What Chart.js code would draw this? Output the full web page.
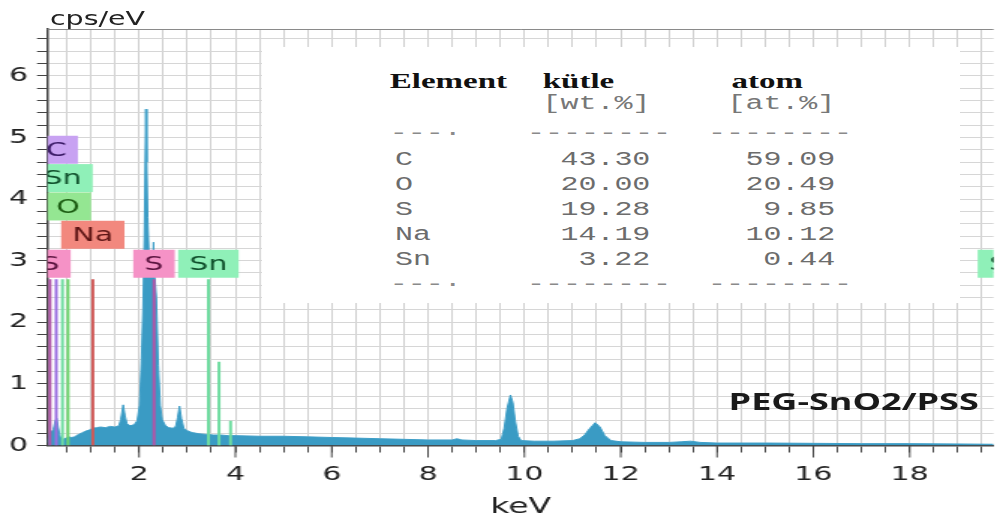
<!DOCTYPE html>
<html>
<head>
<meta charset="utf-8">
<script src="https://cdn.jsdelivr.net/npm/chart.js@4.4.1/dist/chart.umd.min.js"></script>
<style>
  html, body { margin: 0; padding: 0; background: #fff; overflow: hidden; }
  /* the source picture is stretched sideways, so the whole drawing is built narrow and scaled */
  #wrap { position: absolute; left: 0; top: 0; width: 665px; height: 526px;
          transform: scaleX(1.4992); transform-origin: 0 0; }
  #wrap canvas { position: absolute; left: 0; top: 0; }
  #box { position: absolute; left: 175px; top: 47px; width: 465px; height: 256px; background: #fff; }
  .t { position: absolute; white-space: pre; line-height: 1; }
</style>
</head>
<body>
<div id="wrap">
  <canvas id="chart"></canvas>
  <div id="box"></div>
</div>
<script>
// spectrum (keV, cps/eV)
const energy = [0.10,0.14,0.18,0.22,0.26,0.29,0.32,0.36,0.42,0.48,0.54,0.60,0.66,0.72,0.80,0.88,0.96,1.04,1.12,1.20,
  1.30,1.40,1.50,1.58,1.62,1.67,1.71,1.75,1.82,1.90,1.96,2.01,2.05,2.08,2.11,2.14,2.16,2.18,2.21,2.25,
  2.28,2.30,2.32,2.36,2.40,2.44,2.48,2.55,2.62,2.70,2.76,2.80,2.84,2.88,2.93,3.00,3.10,3.25,3.40,3.55,
  3.70,3.85,4.00,4.50,5.00,5.50,6.00,6.50,7.00,7.50,8.00,8.50,8.60,8.70,9.00,9.40,9.52,9.58,9.64,9.71,
  9.76,9.81,9.87,9.93,10.20,10.60,11.00,11.15,11.25,11.35,11.47,11.57,11.67,11.80,12.00,12.50,13.00,13.25,13.45,13.65,
  14.00,15.00,16.00,17.00,18.00,19.00,19.74];
const counts = [0.05,0.20,0.22,0.26,0.40,0.44,0.30,0.15,0.10,0.12,0.14,0.13,0.14,0.17,0.20,0.23,0.25,0.28,0.29,0.30,
  0.29,0.31,0.30,0.32,0.42,0.66,0.48,0.35,0.32,0.34,0.40,0.65,1.40,2.20,3.40,5.46,4.60,3.70,3.00,2.80,
  2.90,3.30,2.80,2.40,1.30,0.65,0.42,0.32,0.29,0.28,0.31,0.45,0.64,0.44,0.28,0.24,0.21,0.19,0.18,0.17,
  0.17,0.16,0.16,0.15,0.15,0.14,0.13,0.12,0.11,0.10,0.09,0.09,0.11,0.09,0.08,0.08,0.10,0.28,0.60,0.82,
  0.70,0.40,0.15,0.08,0.07,0.07,0.08,0.11,0.17,0.27,0.37,0.30,0.16,0.08,0.06,0.05,0.05,0.06,0.07,0.05,
  0.04,0.04,0.035,0.03,0.03,0.025,0.02];

// element marker lines
const lineEls = ["S","C","Sn","O","Na","S","Sn","Sn","Sn"];
const lineKeV = [0.15,0.28,0.41,0.525,1.04,2.31,3.44,3.66,3.90];
const lineTop = [2.70,2.70,2.70,2.70,2.70,2.70,2.70,1.36,0.40];

// element label boxes
const labelEls = ["C","Sn","O","Na","S","S","Sn","Sn"];
const labelKeV = [0.28,0.41,0.525,1.04,0.15,2.31,3.44,20.04];
const labelY   = [4.80,4.34,3.88,3.42,2.95,2.95,2.95,2.95];

// quantification table
const elements = ["C","O","S","Na","Sn"];
const wtPct = [43.30,20.00,19.28,14.19,3.22];
const atPct = [59.09,20.49,9.85,10.12,0.44];

const xLabels = [2,4,6,8,10,12,14,16,18];
const yLabels = [0,1,2,3,4,5,6];

const boxColor  = {C:"#c8a2f2", Sn:"#8ff0b8", O:"#94e692", Na:"#f2887e", S:"#f592c6"};
const lineColor = {C:"#9a6fe0", Sn:"#6fdca0", O:"#6cd46c", Na:"#d05a58", S:"#b056a8"};
const textColor = {C:"#3a1a66", Sn:"#10502c", O:"#1a5a10", Na:"#5c1414", S:"#5c1440"};

const overlay = {
    id: "overlay",
    afterDatasetsDraw(chart){
        const {ctx, chartArea: a, scales: {x, y}} = chart;
        ctx.save();
        ctx.beginPath();
        ctx.rect(a.left, a.top, a.right - a.left, a.bottom - a.top);
        ctx.clip();

        ctx.lineWidth = 2;
        lineEls.forEach((el, i) => {
            const px = x.getPixelForValue(lineKeV[i]);
            ctx.strokeStyle = lineColor[el];
            ctx.beginPath();
            ctx.moveTo(px, y.getPixelForValue(0));
            ctx.lineTo(px, y.getPixelForValue(lineTop[i]));
            ctx.stroke();
        });

        ctx.font = '20px "DejaVu Sans"';
        ctx.textAlign = "center";
        ctx.textBaseline = "middle";
        labelEls.forEach((el, i) => {
            const cx = x.getPixelForValue(labelKeV[i]);
            const cy = y.getPixelForValue(labelY[i]);
            const w = ctx.measureText(el).width + 15;
            const h = 28;
            ctx.fillStyle = boxColor[el];
            ctx.fillRect(cx - w / 2, cy - h / 2, w, h);
            ctx.fillStyle = textColor[el];
            ctx.fillText(el, cx, cy + 1);
        });
        ctx.restore();
    },
    afterDraw(chart){
        const {ctx, chartArea: a, scales: {x}} = chart;
        ctx.save();
        // frame line on top
        ctx.strokeStyle = "#8a8a8a";
        ctx.lineWidth = 1;
        ctx.beginPath();
        ctx.moveTo(a.left, a.top + 0.5);
        ctx.lineTo(a.right, a.top + 0.5);
        ctx.stroke();
        // longer ticks under the labelled energies
        ctx.strokeStyle = "#444";
        xLabels.forEach(v => {
            const px = x.getPixelForValue(v);
            ctx.beginPath();
            ctx.moveTo(px, a.bottom);
            ctx.lineTo(px, a.bottom + 12);
            ctx.stroke();
        });
        ctx.restore();
    }
};

Chart.defaults.font.family = '"DejaVu Sans", Verdana, sans-serif';

new Chart(document.getElementById("chart"), {
    type: "line",
    data: {
        datasets: [{
            data: energy.map((e, i) => ({x: e, y: counts[i]})),
            borderColor: "#3f9fc8",
            backgroundColor: "#3a9bc4",
            borderWidth: 1,
            pointRadius: 0,
            tension: 0,
            fill: "origin"
        }]
    },
    options: {
        responsive: true,
        maintainAspectRatio: false,
        animation: false,
        layout: { padding: { top: 29, left: 0, right: 0, bottom: 0 } },
        plugins: { legend: { display: false }, tooltip: { enabled: false } },
        scales: {
            x: {
                type: "linear",
                min: 0.1,
                max: 19.74,
                afterBuildTicks: axis => {
                    axis.ticks = [];
                    for(let v = 0.5; v < 19.74; v += 0.5) axis.ticks.push({value: v});
                },
                afterFit: axis => { axis.height = 80.5; },
                ticks: {
                    autoSkip: false,
                    maxRotation: 0,
                    minRotation: 0,
                    padding: 10,
                    color: "#222",
                    font: { size: 20 },
                    callback: v => xLabels.includes(v) ? String(v) : ""
                },
                grid: { color: "#cfcfcf", lineWidth: 1, tickLength: 7, tickColor: "#444" },
                border: { color: "#444", width: 1.5 },
                title: { display: true, text: "keV", color: "#222", font: { size: 22 }, padding: { top: 0, bottom: 6 } }
            },
            y: {
                type: "linear",
                min: 0,
                max: 6.76,
                afterBuildTicks: axis => {
                    axis.ticks = [];
                    for(let i = 0; i <= 33; i++) axis.ticks.push({value: i / 5});
                },
                afterFit: axis => { axis.width = 31.7; },
                ticks: {
                    autoSkip: false,
                    padding: 6,
                    color: "#222",
                    font: { size: 20 },
                    callback: v => yLabels.includes(v) ? String(v) : ""
                },
                grid: { color: "#d6d6d6", lineWidth: 1, tickLength: 7, tickColor: "#444" },
                border: { color: "#444", width: 1.5 }
            }
        }
    },
    plugins: [overlay]
});

// ---- text around the plot (html, baseline placed by font metrics) ----
const wrap = document.getElementById("wrap");
const fonts = {
    sans:  {family: '"DejaVu Sans"', k: 0.846},
    serif: {family: '"Liberation Serif"', k: 0.8375},
    mono:  {family: '"Liberation Mono"', k: 0.767},
    open:  {family: '"Open Sans"', k: 0.888}
};

function put(text, x, baseline, f, size, opts = {}){
    const d = document.createElement("div");
    d.className = "t";
    d.textContent = text;
    d.style.fontFamily = fonts[f].family;
    d.style.fontSize = size + "px";
    d.style.top = (baseline - fonts[f].k * size) + "px";
    if(opts.right) d.style.right = (665 - x) + "px";
    else d.style.left = x + "px";
    d.style.color = opts.color || "#222";
    if(opts.bold) d.style.fontWeight = "bold";
    wrap.appendChild(d);
}

put("cps/eV", 33.3, 25, "sans", 19, {color: "#222"});
put("PEG-SnO2/PSS", 486, 410, "open", 24, {bold: true, color: "#1a1a1a"});

// table
put("Element", 260, 88, "serif", 22, {bold: true, color: "#111"});
put("kütle", 362, 88, "serif", 22, {bold: true, color: "#111"});
put("atom", 488, 88, "serif", 22, {bold: true, color: "#111"});
put("[wt.%]", 433.8, 109, "mono", 20, {right: true, color: "#777"});
put("[at.%]", 557.2, 109, "mono", 20, {right: true, color: "#777"});

const gray = "#6c6c6c", dash = "#8a8a8a";
[139, 290].forEach(b => {
    put("---·", 260, b, "mono", 20, {color: dash});
    put("--------", 351.5, b, "mono", 20, {color: dash});
    put("--------", 472.3, b, "mono", 20, {color: dash});
});
elements.forEach((el, i) => {
    const b = 165 + i * 25;
    put(el, 263.5, b, "mono", 20, {color: gray});
    put(wtPct[i].toFixed(2), 433.8, b, "mono", 20, {right: true, color: gray});
    put(atPct[i].toFixed(2), 557.2, b, "mono", 20, {right: true, color: gray});
});
</script>
</body>
</html>
